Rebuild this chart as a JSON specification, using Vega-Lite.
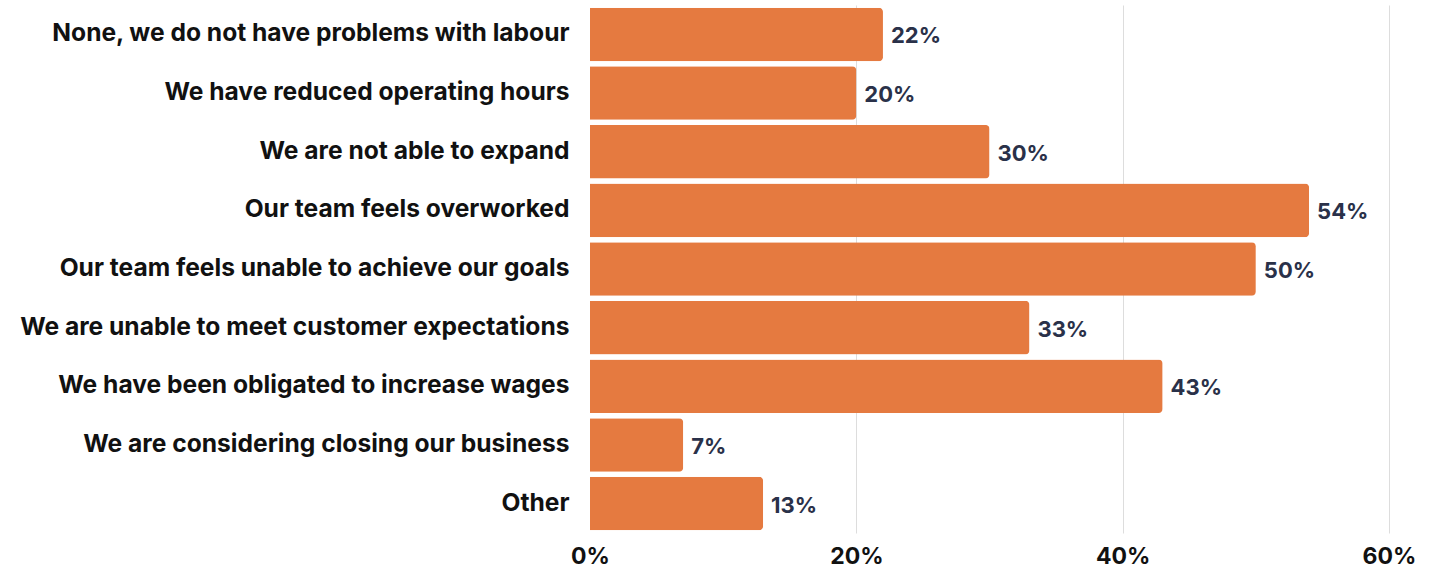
{
  "$schema": "https://vega.github.io/schema/vega-lite/v6.json",
  "width": 799,
  "height": 528,
  "autosize": {"type": "none"},
  "padding": {"left": 590, "top": 5, "right": 42, "bottom": 38},
  "background": "white",
  "data": {
    "values": [
      {"answer": "None, we do not have problems with labour", "pct": 22},
      {"answer": "We have reduced operating hours", "pct": 20},
      {"answer": "We are not able to expand", "pct": 30},
      {"answer": "Our team feels overworked", "pct": 54},
      {"answer": "Our team feels unable to achieve our goals", "pct": 50},
      {"answer": "We are unable to meet customer expectations", "pct": 33},
      {"answer": "We have been obligated to increase wages", "pct": 43},
      {"answer": "We are considering closing our business", "pct": 7},
      {"answer": "Other", "pct": 13}
    ]
  },
  "config": {
    "view": {"stroke": null},
    "font": "Inter"
  },
  "transform": [
    {"calculate": "datum.pct + '%'", "as": "label"}
  ],
  "encoding": {
    "y": {
      "field": "answer",
      "type": "nominal",
      "sort": null,
      "scale": {"paddingInner": 0.087, "paddingOuter": 0.045},
      "axis": {
        "title": null,
        "domain": false,
        "ticks": false,
        "labelPadding": 21,
        "labelFontSize": 24.6,
        "labelFontWeight": "bold",
        "labelColor": "#111111",
        "labelLimit": 0
      }
    },
    "x": {
      "field": "pct",
      "type": "quantitative",
      "scale": {"domain": [0, 60], "nice": false},
      "axis": {
        "title": null,
        "values": [0, 20, 40, 60],
        "labelExpr": "datum.value + '%'",
        "domain": false,
        "ticks": false,
        "grid": true,
        "gridColor": "#dddddd",
        "gridOpacity": {"condition": {"test": "datum.value === 0", "value": 0}, "value": 1},
        "labelPadding": 12,
        "labelFontSize": 23,
        "labelFontWeight": "bold",
        "labelColor": "#111111",
        "labelFlush": false
      }
    }
  },
  "layer": [
    {
      "mark": {"type": "bar", "color": "#E57A40", "cornerRadiusEnd": 4}
    },
    {
      "mark": {"type": "text", "align": "left", "baseline": "middle", "dx": 8, "dy": 2, "fontSize": 22, "fontWeight": "bold", "color": "#2A3149"},
      "encoding": {
        "text": {"field": "label", "type": "nominal"}
      }
    }
  ]
}
